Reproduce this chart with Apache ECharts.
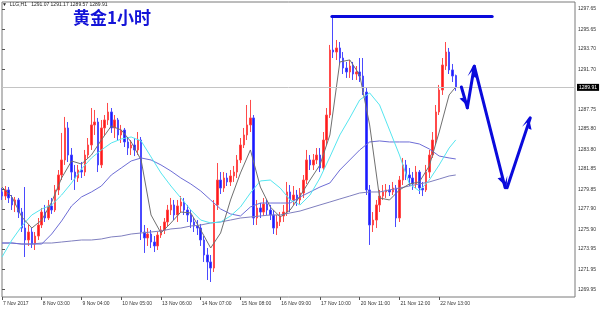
<!DOCTYPE html>
<html><head><meta charset="utf-8">
<script src="https://cdn.jsdelivr.net/npm/echarts@6/dist/echarts.min.js"></script>
<style>html,body{margin:0;padding:0;background:#fff}#c{width:600px;height:310px}</style>
</head><body><div id="c"></div><script>
// ---- data ----
const symbolName = 'LLG,H1';
const titleText = '黄金1小时';
const tickLabels = ['7 Nov 2017','8 Nov 03:00','9 Nov 04:00','10 Nov 05:00','13 Nov 06:00','14 Nov 07:00','15 Nov 08:00','16 Nov 09:00','17 Nov 10:00','20 Nov 11:00','21 Nov 12:00','22 Nov 13:00'];
const priceTicks = [1297.65,1295.65,1293.70,1291.70,1287.75,1285.80,1283.80,1281.85,1279.85,1277.90,1275.90,1273.95,1271.95,1269.95];
const yMin = 1269.21, yMax = 1298.34;
const slotCount = 174;      // bar slots across the window (incl. empty right margin)
const slotsPerLabel = 12;
// [open, close, low, high]
const candles = [
[1279.58,1279.18,1278.79,1279.97],[1279.18,1279.78,1278.79,1280.17],[1279.78,1278.99,1278.49,1280.07],[1278.99,1278.30,1277.80,1279.28],
[1278.30,1278.79,1277.60,1279.09],[1278.79,1277.60,1277.01,1278.99],[1277.60,1276.02,1275.63,1278.00],[1276.02,1274.84,1273.16,1280.07],
[1274.84,1275.63,1274.25,1276.32],[1275.63,1274.44,1274.05,1276.02],[1274.44,1275.23,1273.85,1275.63],[1275.23,1276.32,1274.84,1277.01],
[1276.32,1277.60,1276.02,1278.00],[1277.60,1277.01,1276.62,1278.30],[1277.01,1278.20,1276.81,1278.79],[1278.20,1277.80,1277.41,1278.99],
[1277.80,1279.78,1277.60,1280.27],[1279.78,1281.26,1279.28,1281.75],[1281.26,1282.74,1280.76,1285.41],[1282.74,1285.90,1282.25,1286.99],
[1285.90,1283.23,1282.54,1286.49],[1283.23,1281.55,1280.76,1283.92],[1281.55,1280.96,1279.78,1282.25],[1280.96,1281.75,1280.57,1282.25],
[1281.75,1281.55,1280.96,1282.54],[1281.55,1283.23,1281.16,1283.73],[1283.23,1284.22,1282.94,1284.91],[1284.22,1286.20,1283.73,1287.87],
[1286.20,1286.49,1285.21,1287.68],[1286.49,1282.25,1281.55,1286.89],[1282.25,1285.90,1281.95,1286.69],[1285.90,1286.69,1285.21,1287.18],
[1286.69,1287.48,1286.20,1288.37],[1287.48,1285.90,1285.41,1287.87],[1285.90,1286.69,1284.91,1287.18],[1286.69,1285.21,1284.71,1286.89],
[1285.21,1285.70,1284.42,1286.20],[1285.70,1284.52,1284.02,1285.90],[1284.52,1283.92,1283.23,1284.91],[1283.92,1284.22,1283.23,1284.71],
[1284.22,1283.73,1283.13,1284.91],[1283.73,1284.71,1283.23,1285.50],[1284.71,1275.63,1274.84,1285.01],[1275.63,1275.04,1273.56,1276.32],
[1275.04,1275.43,1274.25,1276.02],[1275.43,1274.64,1274.05,1275.83],[1274.64,1274.25,1273.65,1275.23],[1274.25,1275.33,1273.85,1275.63],
[1275.33,1275.83,1275.04,1276.22],[1275.83,1276.62,1275.43,1277.01],[1276.62,1277.80,1276.22,1278.30],[1277.80,1278.30,1277.31,1278.99],
[1278.30,1277.31,1276.81,1278.79],[1277.31,1278.20,1276.62,1278.79],[1278.20,1278.59,1277.60,1279.18],[1278.59,1277.80,1277.31,1278.99],
[1277.80,1277.31,1276.62,1278.30],[1277.31,1276.62,1276.02,1277.80],[1276.62,1276.22,1275.63,1277.01],[1276.22,1276.02,1275.33,1276.81],
[1276.02,1274.84,1274.25,1276.42],[1274.84,1273.36,1272.67,1275.23],[1273.36,1272.67,1270.89,1274.05],[1272.67,1272.07,1270.69,1273.36],
[1272.07,1278.30,1271.68,1278.79],[1278.30,1280.76,1277.80,1282.44],[1280.76,1279.97,1279.38,1281.55],[1279.97,1280.96,1279.58,1281.55],
[1280.96,1280.57,1280.17,1281.46],[1280.57,1281.16,1280.17,1281.75],[1281.16,1281.55,1280.57,1282.15],[1281.55,1282.74,1280.96,1283.23],
[1282.74,1284.22,1282.44,1284.91],[1284.22,1285.21,1283.92,1285.90],[1285.21,1286.20,1284.71,1288.17],[1286.20,1286.89,1285.50,1288.67],
[1286.89,1277.01,1276.32,1287.18],[1277.01,1278.00,1276.32,1278.79],[1278.00,1277.60,1277.01,1278.49],[1277.60,1278.39,1277.21,1278.99],
[1278.39,1277.80,1277.31,1278.79],[1277.80,1277.31,1276.81,1278.30],[1277.31,1276.02,1275.43,1277.80],[1276.02,1276.62,1275.33,1277.31],
[1276.62,1277.21,1276.22,1277.60],[1277.21,1277.60,1276.62,1278.30],[1277.60,1279.58,1277.21,1280.57],[1279.58,1278.79,1277.60,1280.27],
[1278.79,1279.28,1278.30,1280.17],[1279.28,1278.79,1278.20,1279.78],[1278.79,1279.48,1278.39,1279.97],[1279.48,1280.76,1278.99,1281.26],
[1280.76,1282.74,1280.37,1283.73],[1282.74,1282.25,1281.75,1283.23],[1282.25,1282.74,1281.75,1283.33],[1282.74,1283.23,1282.34,1283.92],
[1283.23,1281.95,1281.55,1283.92],[1281.95,1284.71,1281.75,1285.50],[1284.71,1287.18,1284.22,1287.87],[1287.18,1293.60,1286.89,1294.10],
[1293.60,1293.40,1292.81,1297.06],[1293.40,1293.80,1292.61,1294.59],[1293.80,1292.81,1292.22,1294.39],[1292.81,1291.82,1291.23,1293.40],
[1291.82,1291.43,1290.84,1292.42],[1291.43,1292.02,1290.84,1292.61],[1292.02,1291.23,1290.64,1292.42],[1291.23,1291.43,1290.64,1292.02],
[1291.43,1291.03,1290.44,1292.81],[1291.03,1289.45,1289.16,1292.81],[1289.45,1279.78,1279.28,1289.85],[1279.78,1276.32,1274.35,1280.27],
[1276.32,1276.81,1275.63,1277.60],[1276.81,1278.30,1276.02,1278.79],[1278.30,1279.18,1277.60,1279.78],[1279.18,1279.58,1278.79,1280.27],
[1279.58,1279.78,1278.99,1280.37],[1279.78,1279.58,1279.18,1280.27],[1279.58,1279.97,1279.28,1280.57],[1279.97,1277.01,1276.12,1280.27],
[1277.01,1280.76,1276.62,1281.16],[1280.76,1282.25,1280.27,1282.94],[1282.25,1281.26,1280.76,1282.74],[1281.26,1280.96,1280.17,1281.95],
[1280.96,1280.37,1279.78,1281.55],[1280.37,1281.55,1279.97,1282.15],[1281.55,1279.97,1279.38,1281.75],[1279.97,1279.78,1279.18,1280.57],
[1279.78,1281.55,1279.58,1282.25],[1281.55,1283.23,1280.96,1283.73],[1283.23,1284.71,1282.94,1285.50],[1284.71,1287.48,1284.22,1288.17],
[1287.48,1289.65,1287.18,1290.15],[1289.65,1292.12,1289.16,1292.81],[1292.02,1293.40,1291.63,1294.39],[1293.40,1291.63,1291.23,1293.80],
[1291.63,1291.03,1290.44,1292.22],[1291.07,1289.91,1289.57,1291.17]
];
// moving averages read at bar slots 0,3,6,...,135 and 137
const maSlots = [0,3,6,9,12,15,18,21,24,27,30,33,36,39,42,45,48,51,54,57,60,63,66,69,72,75,78,81,84,87,90,93,96,99,102,105,108,111,114,117,120,123,126,129,132,135,137];
const maFast = [1280.07,1279.09,1277.11,1276.02,1276.81,1278.59,1280.96,1282.64,1282.34,1283.23,1284.72,1286.10,1285.70,1284.52,1282.74,1277.31,1275.53,1276.52,1277.60,1277.51,1275.83,1274.05,1275.53,1278.79,1281.46,1283.73,1280.07,1278.10,1277.11,1277.80,1279.18,1280.76,1282.25,1285.21,1292.42,1292.62,1291.13,1286.20,1278.99,1278.79,1279.78,1280.37,1280.57,1282.15,1285.50,1289.16,1289.95];
const maMid = [1273.16,1274.84,1276.22,1277.31,1277.90,1278.30,1279.28,1280.47,1281.85,1282.94,1283.73,1284.42,1284.81,1285.01,1284.62,1283.04,1281.46,1280.17,1278.99,1277.80,1276.81,1276.52,1276.62,1277.21,1278.10,1279.48,1280.67,1280.76,1279.97,1278.79,1278.30,1279.28,1280.96,1283.04,1285.21,1286.89,1288.67,1289.36,1288.17,1285.70,1283.23,1280.37,1279.68,1280.76,1282.25,1283.92,1284.72];
const maSlow = [1274.54,1274.54,1274.44,1274.44,1274.44,1275.43,1276.72,1278.20,1279.09,1279.58,1280.17,1281.26,1281.95,1282.64,1282.94,1282.74,1282.25,1281.65,1280.96,1280.37,1279.68,1278.79,1277.90,1277.41,1277.21,1278.10,1278.49,1278.49,1278.49,1278.49,1279.09,1279.58,1280.07,1280.47,1281.75,1282.74,1283.73,1284.52,1284.62,1284.52,1284.52,1284.52,1284.32,1283.83,1283.13,1282.94,1282.84];
const maLong = [1274.54,1274.54,1274.44,1274.44,1274.54,1274.54,1274.64,1274.74,1274.84,1274.84,1274.94,1275.14,1275.23,1275.43,1275.53,1275.63,1275.73,1275.93,1276.02,1276.22,1276.32,1276.52,1276.62,1276.81,1277.01,1277.11,1277.21,1277.31,1277.31,1277.51,1277.70,1278.00,1278.30,1278.59,1278.89,1279.18,1279.48,1279.58,1279.58,1279.78,1279.97,1280.17,1280.37,1280.57,1280.86,1281.16,1281.26];
// hand-drawn annotations: [slot, price]
const resistanceLine = [[99.6,1296.96],[148.0,1296.96]];
const arrowPaths = [
  [[138.7,1289.95],[140.5,1287.90]],
  [[140.5,1287.90],[142.6,1292.00]],
  [[142.6,1292.00],[151.9,1280.00]],
  [[152.5,1280.00],[159.5,1286.90]]
];

// ---- build ----
const categories = Array.from({length: slotCount}, (_, i) =>
  (i % slotsPerLabel === 0 && tickLabels[i / slotsPerLabel]) ? tickLabels[i / slotsPerLabel] : '#' + i);
const isLabelSlot = i => i % slotsPerLabel === 0 && (i / slotsPerLabel) < tickLabels.length;
const last = candles[candles.length - 1];
const headerText = '▼  ' + symbolName + '   ' + [last[0], last[3], last[2], last[1]].map(v => v.toFixed(2)).join(' ');
const maPairs = arr => maSlots.map((s, k) => [s, arr[k]]);
const ANN = '#0a0adc';
const chevron = 'path://M5,0L5,0ZM5,10L10,20L7.6,20L5,15L2.4,20Z';

const annLines = [
  [{coord: resistanceLine[0], symbol: 'none'}, {coord: resistanceLine[1], symbol: 'none'}]
].concat(arrowPaths.map(p => [
  {coord: p[0], symbol: 'none'},
  {coord: p[1], symbol: chevron, symbolSize: [10, 22]}
]));

const chart = echarts.init(document.getElementById('c'), null, {renderer: 'canvas'});
const FONT = 'Liberation Sans';
chart.setOption({
  animation: false,
  backgroundColor: '#ffffff',
  title: {
    text: titleText, left: 73, top: 9, padding: 0,
    textStyle: {fontFamily: 'Noto Sans CJK SC', fontSize: 17, fontWeight: 'bold', color: '#1414d8'}
  },
  graphic: [{
    type: 'text', left: 2, top: 2, silent: true,
    style: {text: headerText, fontFamily: FONT, fontSize: 5, fill: '#222'}
  }],
  grid: {left: 0, top: 2, width: 575, height: 295, show: true, borderColor: '#7a7a7a', borderWidth: 1, backgroundColor: '#fff'},
  xAxis: [{
    type: 'category', data: categories, boundaryGap: false,
    axisLine: {show: false},
    axisTick: {show: true, interval: isLabelSlot, length: 3, lineStyle: {color: '#555'}},
    axisLabel: {interval: isLabelSlot, align: 'left', margin: 4, fontFamily: FONT, fontSize: 5, color: '#333', padding: [0,0,0,1]},
    splitLine: {show: false}
  }, {
    type: 'value', min: 0, max: slotCount - 1, show: false, splitLine: {show: false}
  }],
  yAxis: {
    type: 'value', position: 'right', min: yMin, max: yMax, scale: true,
    axisLine: {show: false},
    axisTick: {show: true, length: 3, customValues: priceTicks, lineStyle: {color: '#555'}},
    axisLabel: {customValues: priceTicks, margin: 3, fontFamily: FONT, fontSize: 5, color: '#333', formatter: v => v.toFixed(2)},
    splitLine: {show: false}
  },
  series: [
    {
      type: 'candlestick', data: candles, barWidth: 2, z: 2,
      itemStyle: {color: '#ff1a1a', color0: '#1a1aff', borderColor: '#ff4a4a', borderColor0: '#4a4aff', borderWidth: 1},
      markLine: {
        silent: true, symbol: 'none', animation: false,
        lineStyle: {color: '#c4c4c4', width: 1, type: 'solid'},
        label: {show: true, position: 'end', distance: 2, formatter: () => last[1].toFixed(2),
          backgroundColor: '#000', color: '#fff', fontFamily: FONT, fontSize: 5, padding: [1, 2]},
        data: [{yAxis: last[1]}]
      }
    },
    {type: 'line', xAxisIndex: 1, data: maPairs(maLong), showSymbol: false, silent: true, z: 3, lineStyle: {color: '#7f7fbf', width: 1}},
    {type: 'line', xAxisIndex: 1, data: maPairs(maSlow), showSymbol: false, silent: true, z: 3, lineStyle: {color: '#6d6dd6', width: 1}},
    {type: 'line', xAxisIndex: 1, data: maPairs(maMid), showSymbol: false, silent: true, z: 3, lineStyle: {color: '#55e6f0', width: 1}},
    {type: 'line', xAxisIndex: 1, data: maPairs(maFast), showSymbol: false, silent: true, z: 4, lineStyle: {color: '#707070', width: 1}},
    {
      type: 'line', xAxisIndex: 1, data: [], silent: true, z: 6,
      markLine: {
        silent: true, animation: false, symbol: 'none',
        lineStyle: {color: ANN, width: 3, type: 'solid', cap: 'round'},
        itemStyle: {color: ANN},
        label: {show: false},
        data: annLines
      }
    }
  ]
});
</script></body></html>
